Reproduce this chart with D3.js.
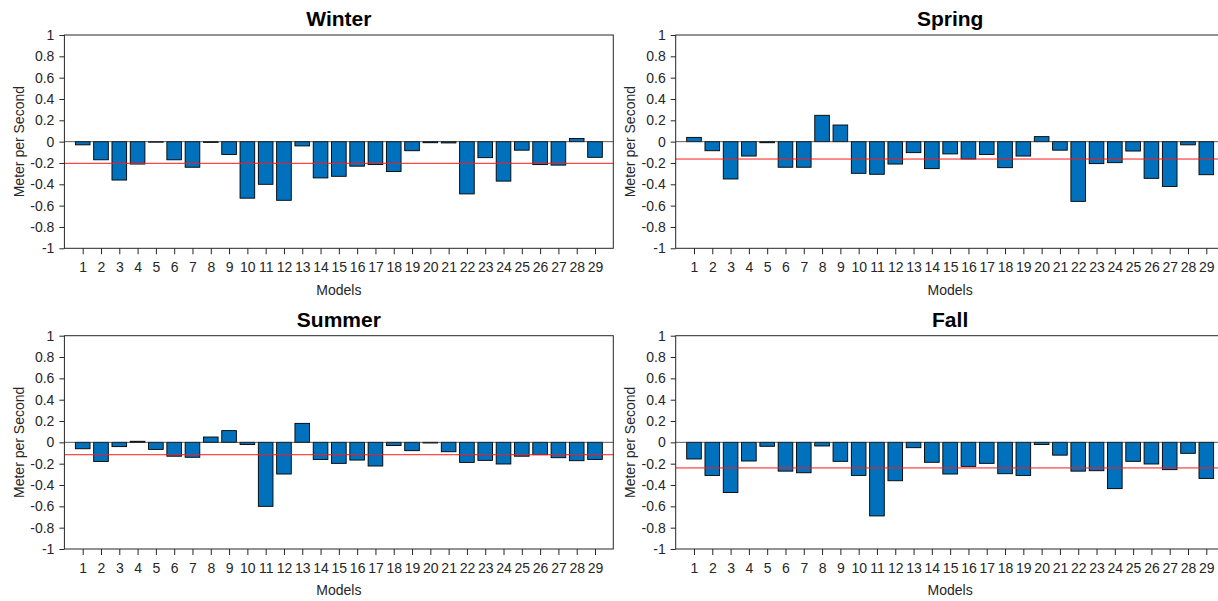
<!DOCTYPE html>
<html>
<head>
<meta charset="utf-8">
<script src="https://cdn.jsdelivr.net/npm/d3@7"></script>
<style>
  body { margin: 0; background: #fff; }
  svg { display: block; font-family: Arial, "Liberation Sans", Helvetica, sans-serif; }
</style>
</head>
<body>
<div id="chart-area"></div>
<script>
// models on the x axis
const models = d3.range(1, 30);

// seasonal values (m/s)
const winter = [-0.03, -0.17, -0.36, -0.21, -0.005, -0.17, -0.24, -0.007, -0.12, -0.53,
  -0.40, -0.55, -0.04, -0.34, -0.325, -0.23, -0.215, -0.28, -0.085, -0.01,
  -0.012, -0.49, -0.15, -0.37, -0.08, -0.215, -0.22, 0.03, -0.147];
const spring = [0.04, -0.085, -0.35, -0.135, -0.01, -0.24, -0.24, 0.247, 0.156, -0.297,
  -0.306, -0.21, -0.103, -0.253, -0.115, -0.163, -0.12, -0.244, -0.135, 0.047,
  -0.08, -0.56, -0.206, -0.197, -0.088, -0.344, -0.42, -0.03, -0.31];
const summer = [-0.06, -0.18, -0.04, 0.01, -0.066, -0.13, -0.14, 0.05, 0.11, -0.02,
  -0.60, -0.297, 0.178, -0.16, -0.197, -0.166, -0.222, -0.03, -0.078, -0.006,
  -0.088, -0.188, -0.169, -0.203, -0.13, -0.116, -0.144, -0.172, -0.16];
const fall = [-0.156, -0.31, -0.47, -0.175, -0.037, -0.27, -0.285, -0.034, -0.178, -0.31,
  -0.69, -0.36, -0.05, -0.187, -0.297, -0.225, -0.197, -0.294, -0.31, -0.02,
  -0.12, -0.27, -0.266, -0.434, -0.178, -0.203, -0.256, -0.103, -0.338];

// mean lines (red)
const seasonMeans = [-0.203, -0.163, -0.116, -0.24];
const seasonNames = ["Winter", "Spring", "Summer", "Fall"];
const seasonValues = [winter, spring, summer, fall];

// y tick values and labels
const yTicks = [1, 0.8, 0.6, 0.4, 0.2, 0, -0.2, -0.4, -0.6, -0.8, -1];
const yTickLabels = ["1", "0.8", "0.6", "0.4", "0.2", "0", "-0.2", "-0.4", "-0.6", "-0.8", "-1"];

const W = 1218, H = 601;
const panelW = 548.9, panelH = 213.3;
const lefts = [64.4, 675.7];
const tops = [35, 335.7];
const axisColor = "#262626";

const svg = d3.select("#chart-area")
  .append("svg")
  .attr("width", W)
  .attr("height", H);

seasonNames.forEach((name, i) => {
  const left = lefts[i % 2];
  const top = tops[Math.floor(i / 2)];
  const vals = seasonValues[i];

  const x = d3.scaleLinear().domain([0, 30]).range([0, panelW]);
  const y = d3.scaleLinear().domain([-1, 1]).range([panelH, 0]);

  const g = svg.append("g").attr("transform", `translate(${left},${top})`);

  // bars
  const barW = x(0.8) - x(0);
  g.selectAll("rect.bar")
    .data(vals)
    .enter()
    .append("rect")
    .attr("class", "bar")
    .attr("x", (_, j) => x(models[j]) - barW / 2)
    .attr("y", d => y(Math.max(0, d)))
    .attr("width", barW)
    .attr("height", d => Math.abs(y(d) - y(0)))
    .attr("fill", "#0072BD")
    .attr("stroke", "#000")
    .attr("stroke-width", 0.9);

  // baseline at zero
  g.append("line")
    .attr("x1", 0).attr("x2", panelW)
    .attr("y1", y(0)).attr("y2", y(0))
    .attr("stroke", "#333")
    .attr("stroke-width", 0.8);

  // mean line
  g.append("line")
    .attr("x1", 0).attr("x2", panelW)
    .attr("y1", y(seasonMeans[i])).attr("y2", y(seasonMeans[i]))
    .attr("stroke", "#ff1a1a")
    .attr("stroke-width", 1);

  // box
  g.append("rect")
    .attr("x", 0).attr("y", 0)
    .attr("width", panelW).attr("height", panelH)
    .attr("fill", "none")
    .attr("stroke", axisColor)
    .attr("stroke-width", 1);

  // x axis
  const xAxis = g.append("g")
    .attr("transform", `translate(0,${panelH})`)
    .call(d3.axisBottom(x).tickValues(models).tickSize(6).tickSizeOuter(0).tickPadding(8));
  xAxis.select(".domain").remove();
  xAxis.selectAll("line").attr("stroke", axisColor);
  xAxis.selectAll("text")
    .attr("fill", axisColor)
    .style("font-size", "14px")
    .style("font-family", "Arial, 'Liberation Sans', sans-serif");

  // y axis
  const yAxis = g.append("g")
    .call(d3.axisLeft(y).tickValues(yTicks).tickSize(5).tickSizeOuter(0).tickPadding(5)
      .tickFormat((_, k) => yTickLabels[k]));
  yAxis.select(".domain").remove();
  yAxis.selectAll("line").attr("stroke", axisColor);
  yAxis.selectAll("text")
    .attr("fill", axisColor)
    .style("font-size", "14px")
    .style("font-family", "Arial, 'Liberation Sans', sans-serif");

  // title
  g.append("text")
    .attr("x", panelW / 2)
    .attr("y", -9)
    .attr("text-anchor", "middle")
    .style("font-size", "21px")
    .style("font-weight", "bold")
    .attr("fill", "#000")
    .text(name);

  // x label
  g.append("text")
    .attr("x", x(15))
    .attr("y", panelH + 46.5)
    .attr("text-anchor", "middle")
    .style("font-size", "14px")
    .attr("fill", axisColor)
    .text("Models");

  // y label
  g.append("text")
    .attr("transform", `translate(-40.5,${panelH / 2}) rotate(-90)`)
    .attr("text-anchor", "middle")
    .style("font-size", "14px")
    .attr("fill", axisColor)
    .text("Meter per Second");
});
</script>
</body>
</html>
